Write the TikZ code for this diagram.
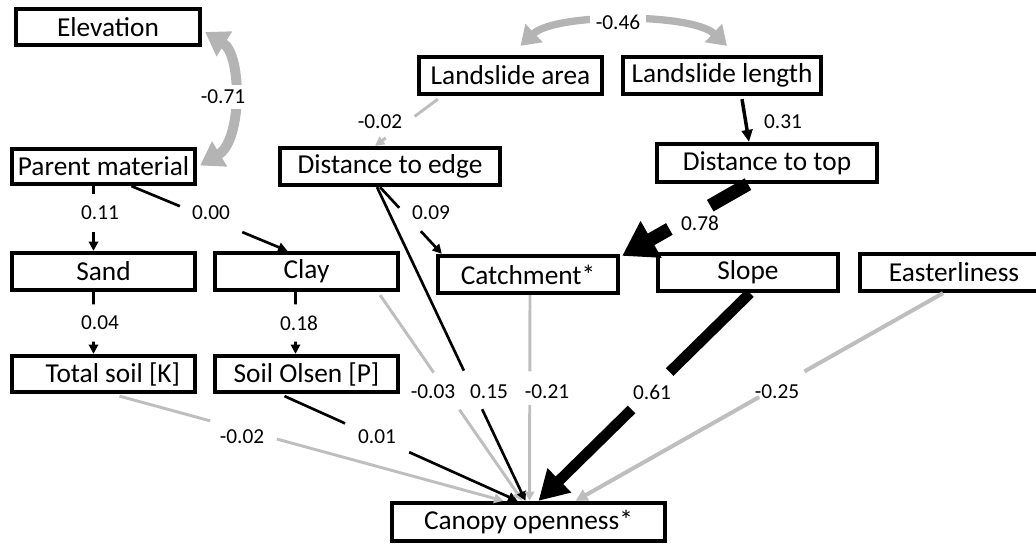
\documentclass[tikz,border=0pt]{standalone}
\usepackage{fontspec}
\setmainfont{Carlito}
\usetikzlibrary{arrows.meta,calc}
\definecolor{lgray}{RGB}{190,190,190}
\definecolor{agray}{RGB}{180,180,180}
\tikzset{
  box/.style={draw=black, line width=3.2pt, inner sep=0pt, align=center,
    font=\fontsize{20.5}{24}\selectfont},
  lab/.style={font=\fontsize{16}{19}\selectfont, inner sep=1pt},
  arclab/.style={lab, fill=white, inner sep=4pt},
  blk/.style={draw=black, line width=2pt, -{Triangle[length=7pt,width=7pt]}},
  blkm/.style={draw=black, line width=2.6pt, -{Triangle[length=9pt,width=8pt]}},
  gry/.style={draw=lgray, line width=2.2pt, -{Triangle[length=7pt,width=7pt]}},
  gryb/.style={draw=lgray, line width=3pt, -{Triangle[length=9pt,width=9pt]}},
  thick61/.style={draw=black, line width=8pt, -{Triangle[length=22pt,width=24pt]}},
  thick78/.style={draw=black, line width=10pt, -{Triangle[length=25pt,width=30pt]}},
  arcA/.style={draw=agray, line width=5.5pt, {Triangle[length=14pt,width=18pt]}-{Triangle[length=14pt,width=18pt]}},
  arcB/.style={draw=agray, line width=7.5pt, {Triangle[length=17pt,width=21pt]}-{Triangle[length=17pt,width=21pt]}}
}
\newcommand\gapedge[5]{\draw[#1] (#2) -- ($(#2)!#4!(#3)$) ($(#2)!#5!(#3)$) -- (#3);}
\begin{document}
\begin{tikzpicture}[x=0.75pt,y=-0.75pt]
\useasboundingbox (0,0) rectangle (1036,545);
\clip (0,0) rectangle (1036,545);
% boxes
\node[box, minimum width=138pt, minimum height=27pt] (elev) at (108,27) {Elevation};
\node[box, minimum width=137.25pt, minimum height=26.25pt] (parent) at (103.5,166.5) {Parent material};
\node[box, minimum width=137.25pt, minimum height=27.75pt] (larea) at (510.5,75.5) {Landslide area};
\node[box, minimum width=148.5pt, minimum height=27.75pt] (llen) at (722,75.5) {Landslide length};
\node[box, minimum width=165pt, minimum height=27.75pt] (dedge) at (390,166.5) {Distance to edge};
\node[box, minimum width=165pt, minimum height=28.5pt] (dtop) at (767,163) {Distance to top};
\node[box, minimum width=137.25pt, minimum height=27.75pt] (sand) at (103.5,271.5) {Sand};
\node[box, minimum width=137.25pt, minimum height=27.75pt] (clay) at (306.5,271.5) {Clay};
\node[box, minimum width=135pt, minimum height=27.75pt] (catch) at (528,274.5) {Catchment*};
\node[box, minimum width=135pt, minimum height=27.75pt] (slope) at (748,272.5) {Slope};
\node[box, minimum width=141pt, minimum height=27.75pt] (east) at (954,272.5) {Easterliness};
\node[box, minimum width=137.25pt, minimum height=27pt] (totk) at (103.5,374) {\hspace*{14pt}Total soil [K]};
\node[box, minimum width=137.25pt, minimum height=27pt] (olsen) at (306.5,374) {Soil Olsen [P]};
\node[box, minimum width=204.75pt, minimum height=28.5pt] (canopy) at (528.5,522) {Canopy openness*};
% connector end points
\coordinate (a1s) at ($(larea.south west)+(21,3)$);
\coordinate (a1e) at ($(dedge.north)+(-15,0)$);
\coordinate (a2s) at ($(llen.south)+(20,3)$);
\coordinate (a2e) at ($(dtop.north)+(-18,0)$);
\coordinate (c46s) at ($(larea.north)+(10,-9)$);
\coordinate (c46e) at ($(llen.north)+(5,-9)$);
\coordinate (c71s) at ($(elev.east)+(3,5)$);
\coordinate (c71e) at ($(parent.east)+(3,-1)$);
\coordinate (a5s) at ($(parent.south)+(-10,0)$);
\coordinate (a5e) at ($(sand.north)+(-10,0)$);
\coordinate (a6s) at ($(parent.south)+(28,0)$);
\coordinate (a6e) at ($(clay.north)+(-19,0)$);
\coordinate (a7s) at ($(sand.south)+(-10,0)$);
\coordinate (a7e) at ($(totk.north)+(-10,0)$);
\coordinate (a8s) at ($(clay.south)+(-11,0)$);
\coordinate (a8e) at ($(olsen.north)+(-11,0)$);
\coordinate (a9s) at ($(dedge.south)+(-10,0)$);
\coordinate (a9e) at ($(catch.north west)+(6,0)$);
\coordinate (a10s) at ($(dtop.south)+(-19,0)$);
\coordinate (a10e) at ($(catch.north east)+(2,2)$);
\coordinate (b1s) at ($(totk.south)+(16,2)$);
\coordinate (b1e) at ($(canopy.north)+(-25,0)$);
\coordinate (b2s) at ($(olsen.south)+(-22,2)$);
\coordinate (b2e) at ($(canopy.north)+(-11,0)$);
\coordinate (b3s) at ($(clay.south east)+(-20,3)$);
\coordinate (b3e) at ($(canopy.north)+(-6,0)$);
\coordinate (b4s) at ($(dedge.south)+(-13,0)$);
\coordinate (b4e) at ($(canopy.north)+(-3,0)$);
\coordinate (b5s) at ($(catch.south)+(2,0)$);
\coordinate (b5e) at ($(canopy.north)+(1,0)$);
\coordinate (b6s) at ($(slope.south)+(2,0)$);
\coordinate (b6e) at ($(canopy.north)+(10,0)$);
\coordinate (b7s) at ($(east.south)+(-11,0)$);
\coordinate (b7e) at ($(canopy.north)+(47,0)$);
% curved correlations
\draw[arcA] (c46s) .. controls ($(c46s)+(35,-33)$) and ($(c46e)+(-35,-33)$) .. (c46e);
\node[arclab] (l46) at (618,22) {-0.46};
\draw[arcB] (c71s) .. controls ($(c71s)+(37,23)$) and ($(c71e)+(42,-25)$) .. (c71e);
\node[arclab] (l71) at (223,97) {-0.71};
% upper paths
\gapedge{gry}{a1s}{a1e}{0.37}{0.83}
\draw[blkm] (a2s) -- (a2e);
\gapedge{blk}{a5s}{a5e}{0.12}{0.71}
\gapedge{blk}{a6s}{a6e}{0.31}{0.71}
\gapedge{blk}{a7s}{a7e}{0.2}{0.8}
\gapedge{blk}{a8s}{a8e}{0.2}{0.8}
\gapedge{blk}{a9s}{a9e}{0.31}{0.66}
\gapedge{thick78}{a10s}{a10e}{0.30}{0.625}
% paths to canopy openness
\gapedge{gry}{b1s}{b1e}{0.236}{0.41}
\gapedge{blk}{b2s}{b2e}{0.26}{0.535}
\gapedge{gry}{b3s}{b3e}{0.376}{0.557}
\gapedge{blk}{b4s}{b4e}{0.585}{0.708}
\gapedge{gry}{b5s}{b5e}{0.371}{0.533}
\gapedge{thick61}{b6s}{b6e}{0.38}{0.56}
\gapedge{gryb}{b7s}{b7e}{0.377}{0.5}
% labels
\node[lab] (l02a) at (380,122) {-0.02};
\node[lab] (l31) at (783,122) {0.31};
\node[lab] (l11) at (100,213) {0.11};
\node[lab] (l00) at (211,213) {0.00};
\node[lab] (l09) at (431,213) {0.09};
\node[lab] (l78) at (700,223) {0.78};
\node[lab] (l04) at (100,323) {0.04};
\node[lab] (l18) at (299,323) {0.18};
\node[lab] (l03) at (433,392) {-0.03};
\node[lab] (l15) at (489,392) {0.15};
\node[lab] (l21) at (547,392) {-0.21};
\node[lab] (l61) at (652,392) {0.61};
\node[lab] (l25) at (777,392) {-0.25};
\node[lab] (l02b) at (242,437) {-0.02};
\node[lab] (l01) at (377,437) {0.01};
\end{tikzpicture}
\end{document}
